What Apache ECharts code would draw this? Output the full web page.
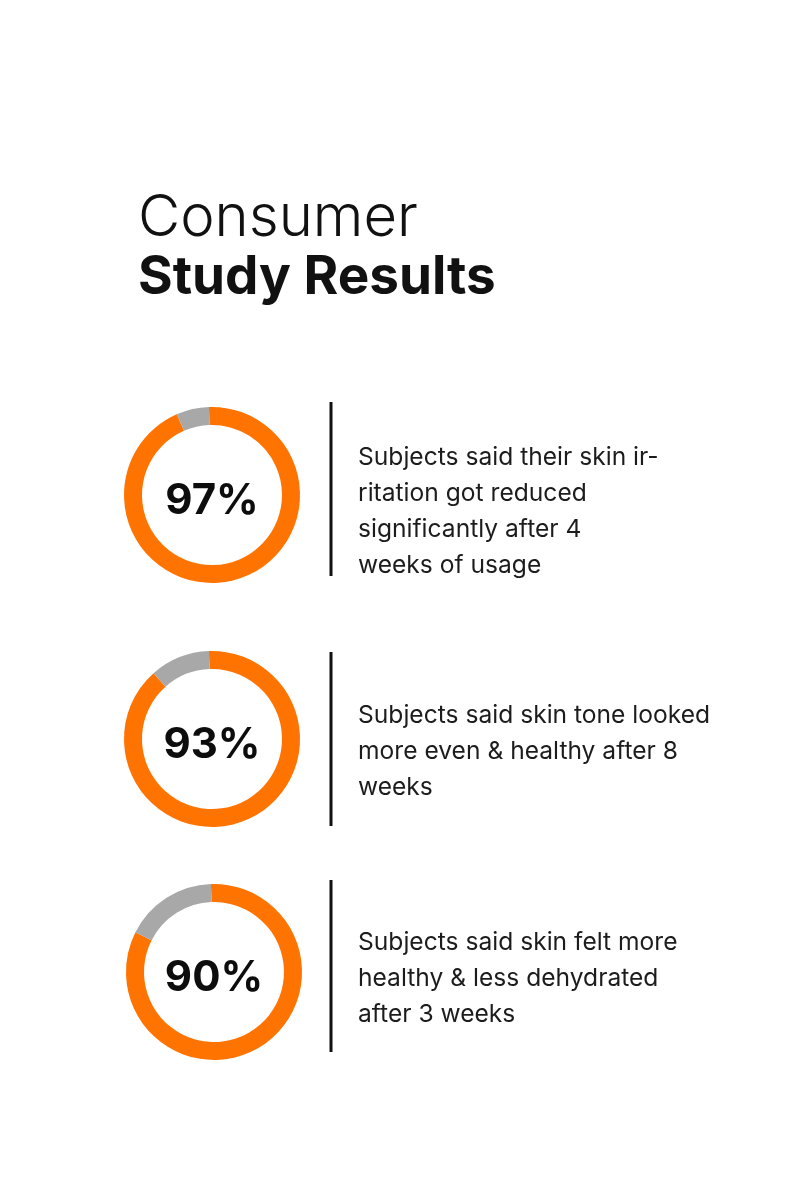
<!DOCTYPE html>
<html>
<head>
<meta charset="utf-8">
<script src="https://cdn.jsdelivr.net/npm/echarts@6/dist/echarts.min.js"></script>
<style>
html,body{margin:0;padding:0;background:#ffffff;}
#chart{width:800px;height:1200px;}
</style>
</head>
<body>
<div id="chart"></div>
<script>
// ---- data ----
var titleLine1 = 'Consumer';
var titleLine2 = 'Study Results';
var percentLabels = ['97%', '93%', '90%'];
// arc shares as drawn in the picture (orange part / grey remainder)
var orangeShare = [94, 89, 83];
var greyShare = [6, 11, 17];
var descriptions = [
  'Subjects said their skin ir-\nritation got reduced\nsignificantly after 4\nweeks of usage',
  'Subjects said skin tone looked\nmore even & healthy after 8\nweeks',
  'Subjects said skin felt more\nhealthy & less dehydrated\nafter 3 weeks'
];

// ---- layout ----
var centers = [[212, 495], [212, 739], [214, 972]];
var dividerTops = [402, 652, 880];
var dividerBottoms = [576, 826, 1052];
var textTops = [440, 698, 925];
var ORANGE = '#ff7300';
var GREY = '#a8a8a8';
var FONT = 'Inter';

var chart = echarts.init(document.getElementById('chart'), null, {renderer: 'canvas'});

var series = percentLabels.map(function (lab, i) {
  return {
    type: 'pie',
    center: centers[i],
    radius: [70, 88],
    startAngle: 92,
    clockwise: true,
    silent: true,
    avoidLabelOverlap: false,
    labelLine: {show: false},
    data: [
      {value: orangeShare[i], name: 'yes', itemStyle: {color: ORANGE},
       label: {show: true, position: 'center', formatter: lab, offset: [0, 6],
               fontFamily: FONT, fontWeight: 700, fontSize: 42, color: '#0d0d0d'}},
      {value: greyShare[i], name: 'rest', itemStyle: {color: GREY}, label: {show: false}}
    ]
  };
});

var graphics = [];
descriptions.forEach(function (d, i) {
  graphics.push({
    type: 'rect',
    shape: {x: 329.5, y: dividerTops[i], width: 3, height: dividerBottoms[i] - dividerTops[i]},
    style: {fill: '#111111'},
    silent: true
  });
  graphics.push({
    type: 'text',
    left: 358,
    top: textTops[i],
    style: {text: d, fontFamily: FONT, fontSize: 24.6, fontWeight: 400, lineHeight: 36, fill: '#1c1c1c'},
    silent: true
  });
});
graphics.push({
  type: 'text', left: 138, top: 190,
  style: {text: titleLine1, fontFamily: FONT, fontSize: 58, fontWeight: 300, fill: '#111111'}
});
graphics.push({
  type: 'text', left: 138, top: 252,
  style: {text: titleLine2, fontFamily: FONT, fontSize: 53, fontWeight: 700, fill: '#111111'}
});

chart.setOption({
  backgroundColor: '#ffffff',
  animation: false,
  series: series,
  graphic: graphics
});
</script>
</body>
</html>
